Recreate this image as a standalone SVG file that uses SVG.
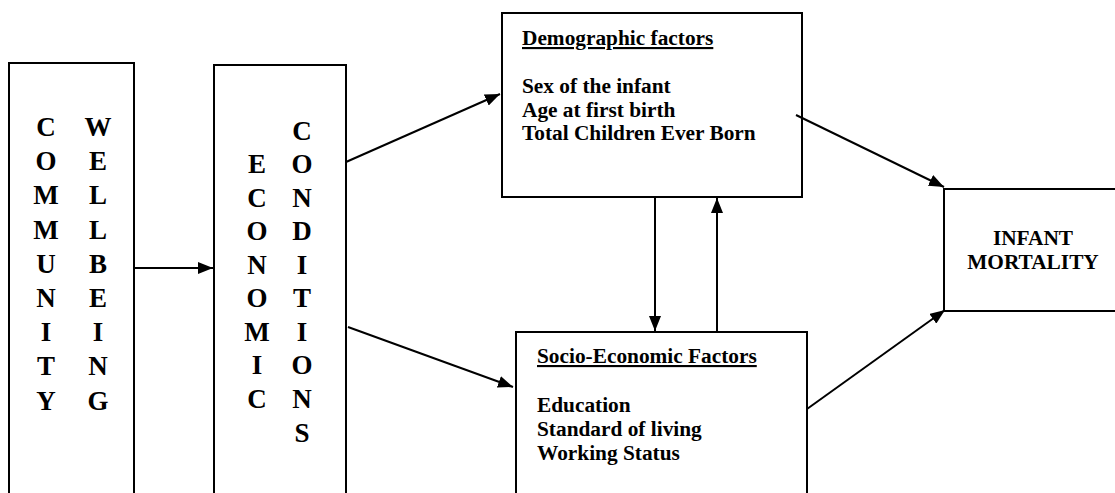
<svg xmlns="http://www.w3.org/2000/svg" width="1115" height="493" viewBox="0 0 1115 493">
<style>
.box{fill:#fff;stroke:#000;stroke-width:2}
.t{font-family:"Liberation Serif","Times New Roman",serif;font-weight:bold;font-size:21.33px;fill:#000}
.v{font-family:"Liberation Serif","Times New Roman",serif;font-weight:bold;font-size:27px;fill:#000;text-anchor:middle}
.u{text-decoration:underline}
.c{fill:none;stroke:#000;stroke-width:2}
</style>
<defs>
<marker id="ah" markerUnits="userSpaceOnUse" markerWidth="16" markerHeight="12" refX="15" refY="6" orient="auto">
<path d="M0,0 L15,6 L0,12 z" fill="#000"/>
</marker>
</defs>
<rect width="1115" height="493" fill="#fff"/>
<g id="community">
<rect class="box" x="9" y="63" width="125" height="450"/>
<text class="v" x="46" y="136">C</text>
<text class="v" x="46" y="170">O</text>
<text class="v" x="46" y="204">M</text>
<text class="v" x="46" y="239">M</text>
<text class="v" x="46" y="273">U</text>
<text class="v" x="46" y="307">N</text>
<text class="v" x="46" y="341">I</text>
<text class="v" x="46" y="375">T</text>
<text class="v" x="46" y="410">Y</text>
<text class="v" x="98" y="136">W</text>
<text class="v" x="98" y="170">E</text>
<text class="v" x="98" y="204">L</text>
<text class="v" x="98" y="239">L</text>
<text class="v" x="98" y="273">B</text>
<text class="v" x="98" y="307">E</text>
<text class="v" x="98" y="341">I</text>
<text class="v" x="98" y="375">N</text>
<text class="v" x="98" y="410">G</text>
</g>
<g id="economic">
<rect class="box" x="214" y="65" width="132" height="450"/>
<text class="v" x="257" y="173">E</text>
<text class="v" x="257" y="207">C</text>
<text class="v" x="257" y="240">O</text>
<text class="v" x="257" y="274">N</text>
<text class="v" x="257" y="307">O</text>
<text class="v" x="257" y="341">M</text>
<text class="v" x="257" y="374">I</text>
<text class="v" x="257" y="408">C</text>
<text class="v" x="302" y="140">C</text>
<text class="v" x="302" y="173">O</text>
<text class="v" x="302" y="207">N</text>
<text class="v" x="302" y="240">D</text>
<text class="v" x="302" y="274">I</text>
<text class="v" x="302" y="307">T</text>
<text class="v" x="302" y="341">I</text>
<text class="v" x="302" y="374">O</text>
<text class="v" x="302" y="408">N</text>
<text class="v" x="302" y="442">S</text>
</g>
<g id="demographic">
<rect class="box" x="502" y="13" width="300" height="184"/>
<text class="t u" x="522" y="45">Demographic factors</text>
<text class="t" x="522" y="93">Sex of the infant</text>
<text class="t" x="522" y="116.5">Age at first birth</text>
<text class="t" x="522" y="140">Total Children Ever Born</text>
</g>
<g id="socio">
<rect class="box" x="516" y="332" width="291" height="200"/>
<text class="t u" x="537" y="363">Socio-Economic Factors</text>
<text class="t" x="537" y="412">Education</text>
<text class="t" x="537" y="436">Standard of living</text>
<text class="t" x="537" y="460">Working Status</text>
</g>
<g id="infant">
<rect class="box" x="944" y="189" width="200" height="122"/>
<text class="t" x="1033" y="245" text-anchor="middle">INFANT</text>
<text class="t" x="1033" y="269" text-anchor="middle">MORTALITY</text>
</g>
<g id="connectors">
<line class="c" x1="134" y1="268" x2="213" y2="268" marker-end="url(#ah)"/>
<line class="c" x1="346" y1="162" x2="500" y2="94" marker-end="url(#ah)"/>
<line class="c" x1="348" y1="327" x2="513" y2="387" marker-end="url(#ah)"/>
<line class="c" x1="655" y1="197" x2="655" y2="331" marker-end="url(#ah)"/>
<line class="c" x1="717" y1="332" x2="717" y2="198" marker-end="url(#ah)"/>
<line class="c" x1="796" y1="115" x2="944" y2="187" marker-end="url(#ah)"/>
<line class="c" x1="807" y1="409" x2="945" y2="310" marker-end="url(#ah)"/>
</g>
</svg>
